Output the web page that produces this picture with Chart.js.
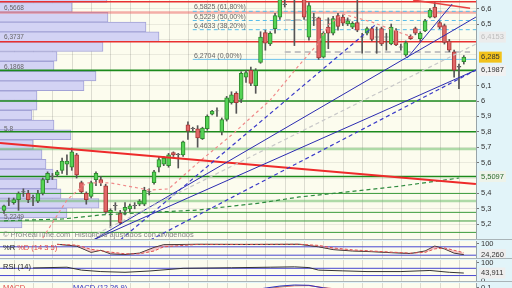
<!DOCTYPE html>
<html>
<head>
<meta charset="utf-8">
<script src="https://cdn.jsdelivr.net/npm/chart.js@4.4.1/dist/chart.umd.min.js"></script>
<style>
  body { margin:0; width:512px; height:288px; overflow:hidden; position:relative; background:#e2f4f9; font-family:"Liberation Sans", Arial, sans-serif; }
  .pane { position:absolute; left:0; width:476px; background:#fcfcee; }
  .sep { position:absolute; left:0; width:512px; height:1px; background:#a9b4b8; }
  canvas { position:absolute; left:0; }
  .t { position:absolute; white-space:nowrap; line-height:1; }
</style>
</head>
<body>
<div class="pane" style="top:0;height:239px"></div>
<div class="sep" style="top:239px"></div>
<div class="pane" style="top:241px;height:17px"></div>
<div class="sep" style="top:258px"></div>
<div class="pane" style="top:260px;height:21px"></div>
<div class="sep" style="top:281px"></div>
<div class="pane" style="top:283px;height:5px"></div>

<canvas id="profile" width="512" height="239" style="top:0"></canvas>
<canvas id="price" width="512" height="239" style="top:0"></canvas>
<canvas id="wr" width="512" height="17" style="top:241px"></canvas>
<canvas id="rsi" width="512" height="21" style="top:260px"></canvas>
<canvas id="macd" width="512" height="8" style="top:283px"></canvas>

<div class="t" style="left:4px;top:5px;font-size:6.5px;color:#666">6,5668</div>
<div class="t" style="left:4px;top:34px;font-size:6.5px;color:#666">6,3737</div>
<div class="t" style="left:4px;top:64px;font-size:6.5px;color:#666">6,1868</div>
<div class="t" style="left:4px;top:126px;font-size:6.5px;color:#666">5,8</div>
<div class="t" style="left:4px;top:214px;font-size:6.5px;color:#666">5,2249</div>

<div class="t" style="left:194px;top:2.5px;font-size:7px;color:#666">6,5825 (61,80%)</div>
<div class="t" style="left:194px;top:12.5px;font-size:7px;color:#666">6,5229 (50,00%)</div>
<div class="t" style="left:194px;top:21.5px;font-size:7px;color:#666">6,4633 (38,20%)</div>
<div class="t" style="left:194px;top:51.5px;font-size:7px;color:#666">6,2704 (0,00%)</div>

<div class="t" style="left:3px;top:231px;font-size:7.5px;color:#8a8a8a">© ProRealTime.com&nbsp; Históricos ajustados con dividendos</div>

<div class="t" style="left:3px;top:244px;font-size:7.5px;color:#222">%R <span style="color:#e04848">%D (14 3 5)</span></div>
<div class="t" style="left:3px;top:263px;font-size:7.5px;color:#222">RSI (14)</div>
<div class="t" style="left:3px;top:283.5px;font-size:7.5px;color:#e04848">MACD</div>
<div class="t" style="left:73px;top:283.5px;font-size:7.5px;color:#3030c0">MACD (12 26 9)</div>

<script>
// daily candles
const open = [5.29,5.35,5.34,5.36,5.41,5.40,5.37,5.35,5.40,5.49,
  5.51,5.52,5.55,5.59,5.57,5.65,5.47,5.40,5.38,5.49,
  5.49,5.45,5.275,5.32,5.27,5.29,5.30,5.32,5.33,5.33,
  5.41,5.47,5.57,5.59,5.58,5.665,5.655,5.65,5.845,5.82,
  5.82,5.755,5.82,5.915,5.935,5.80,5.88,5.99,6.05,6.01,
  6.155,6.20,6.10,6.25,6.445,6.37,6.47,6.545,6.63,6.68,
  6.72,6.70,6.70,6.415,6.54,6.54,6.285,6.48,6.44,6.555,
  6.545,6.50,6.48,6.51,6.415,6.44,6.47,6.415,6.47,6.415,
  6.37,6.455,6.35,6.30,6.42,6.47,6.405,6.455,6.545,6.61,
  6.51,6.49,6.39,6.32,6.22,6.255];
const high = [5.325,5.37,5.37,5.41,5.43,5.42,5.39,5.42,5.50,5.54,
  5.53,5.55,5.63,5.65,5.695,5.66,5.48,5.41,5.48,5.54,
  5.51,5.46,5.30,5.34,5.29,5.34,5.33,5.34,5.36,5.44,
  5.43,5.55,5.64,5.64,5.66,5.67,5.66,5.74,5.865,5.83,
  5.84,5.83,5.91,5.94,5.955,5.89,6.03,6.06,6.06,6.19,
  6.20,6.22,6.21,6.45,6.46,6.45,6.57,6.72,6.68,6.75,
  6.78,6.76,6.74,6.64,6.57,6.545,6.45,6.54,6.55,6.57,
  6.56,6.54,6.515,6.66,6.44,6.48,6.48,6.48,6.48,6.44,
  6.50,6.47,6.37,6.39,6.43,6.48,6.45,6.53,6.60,6.64,
  6.52,6.50,6.40,6.33,6.24,6.295];
const low = [5.27,5.32,5.33,5.29,5.38,5.34,5.32,5.34,5.39,5.47,
  5.49,5.51,5.53,5.52,5.55,5.50,5.40,5.33,5.37,5.45,
  5.45,5.27,5.18,5.29,5.20,5.26,5.28,5.30,5.32,5.32,
  5.39,5.46,5.54,5.58,5.57,5.64,5.565,5.64,5.75,5.80,
  5.70,5.75,5.81,5.91,5.90,5.78,5.87,5.98,5.92,5.99,
  6.12,6.10,6.05,6.245,6.33,6.36,6.44,6.53,6.61,6.66,
  6.36,6.67,6.53,6.395,6.49,6.27,6.28,6.34,6.43,6.46,
  6.49,6.49,6.47,6.45,6.31,6.43,6.39,6.31,6.36,6.33,
  6.365,6.36,6.33,6.29,6.40,6.43,6.39,6.45,6.54,6.54,
  6.47,6.37,6.32,6.155,6.08,6.24];
const close = [5.32,5.352,5.36,5.40,5.412,5.36,5.375,5.40,5.49,5.53,
  5.512,5.54,5.61,5.61,5.67,5.52,5.41,5.36,5.47,5.53,
  5.47,5.28,5.29,5.322,5.21,5.31,5.32,5.322,5.35,5.42,
  5.412,5.54,5.62,5.63,5.65,5.65,5.652,5.735,5.805,5.822,
  5.76,5.825,5.90,5.935,5.937,5.88,6.02,6.04,5.99,6.18,
  6.185,6.115,6.20,6.415,6.375,6.44,6.555,6.70,6.625,6.72,
  6.70,6.73,6.545,6.62,6.542,6.28,6.44,6.44,6.535,6.485,
  6.505,6.52,6.505,6.46,6.417,6.47,6.40,6.417,6.37,6.417,
  6.48,6.365,6.352,6.38,6.405,6.44,6.44,6.52,6.59,6.545,
  6.48,6.38,6.33,6.20,6.225,6.285];

// volume by price (left histogram)
const profilePrice = [6.671,6.608,6.544,6.481,6.417,6.353,6.290,6.226,6.162,6.099,6.035,5.972,
  5.908,5.844,5.781,5.717,5.653,5.590,5.526,5.462,5.399,5.335,5.272,5.208];
const profileVolume = [107,72,108,146,159,103,57,54,96,84,37,37,32,54,71,33,42,46,53,57,61,99,67,22];

// levels
const redLevels = [6.645, 6.385];
const pinkLevels = [6.575];
const greenStrong = [6.1987, 6.0, 5.8, 5.5097];
const greenPale = [5.688, 5.351];
const greenThin = [5.40, 5.277, 5.221, 5.147];
const fibLevels = [6.5825, 6.5229, 6.4633];
const fibBase = 6.2704;
const fibFrom = 39;
const greyZones = [[6.318, 58, 96.3], [6.526, 58, 72]];

// trend lines: [session index, price]
const redTrend = [[-0.83, 5.727], [97.5, 5.461]];
const redTop = [[84.5, 6.656], [96.3, 6.602]];
const blueA = [[18.4, 5.097], [97.5, 6.545]];
const blueB = [[18.4, 5.097], [97.5, 6.201]];
const blueC = [[83.3, 6.279], [92.6, 6.630]];
const blueDashA = [[24, 5.097], [76.7, 6.494]];
const blueDashB = [[30.2, 5.097], [97.5, 6.201]];
const greyDash = [[17.8, 5.117], [97.5, 6.370]];

// moving averages
const maPinkIdx = [8, 13, 17, 22, 30, 34, 40, 47, 55, 61, 65, 67, 70, 76, 82, 85];
const maPink = [5.110, 5.357, 5.468, 5.468, 5.422, 5.429, 5.597, 5.779, 6.006, 6.234, 6.377, 6.494, 6.565, 6.513, 6.442, 6.409];
const maGreenIdx = [0, 12, 20, 28, 40, 53, 61, 69, 82, 94];
const maGreen = [5.222, 5.234, 5.260, 5.273, 5.292, 5.338, 5.377, 5.403, 5.448, 5.500];

// indicators
const wrIdx = [11, 15, 18, 20, 22, 25, 28, 31, 33, 40, 50, 61, 65, 68, 72, 76, 80, 84, 87, 89, 91, 93, 95];
const wrK = [98, 85, 40, 55, 30, 25, 35, 75, 95, 98, 97, 98, 80, 60, 50, 45, 38, 32, 50, 85, 65, 35, 24.26];
const wrD = [97, 92, 62, 52, 42, 30, 30, 50, 80, 97, 97, 98, 90, 72, 58, 50, 42, 35, 40, 65, 72, 55, 38];
const rsiIdx = [6, 13, 16, 20, 25, 30, 37, 47, 55, 60, 63, 65, 70, 75, 82, 88, 92, 95];
const rsiVal = [72, 76, 60, 52, 48, 55, 70, 73, 76, 78, 74, 60, 56, 52, 52, 58, 48, 43.911];
const macdIdx = [44, 52, 57, 60, 63, 66, 72];
const macdLine = [0.07, 0.088, 0.11, 0.117, 0.115, 0.098, 0.075];
const macdSignal = [0.068, 0.085, 0.104, 0.112, 0.113, 0.1, 0.08];

// price axis
const priceTicks = [6.6, 6.5, 6.4, 6.3, 6.2, 6.1, 6.0, 5.9, 5.8, 5.7, 5.6, 5.5, 5.4, 5.3, 5.2, 6.4153, 6.1987, 5.5097, 6.285];
const hiddenTicks = [6.4, 6.3, 6.2, 5.5];
const boxes = {
  6.4153: { text: '6,4153', bg: '#ececec', fg: '#bdbdbd' },
  6.285: { text: '6,285', bg: '#f2c21c', fg: '#333' },
  6.1987: { text: '6,1987', bg: '#f1f1f1', fg: '#333' },
  5.5097: { text: '5,5097', bg: '#eef3ea', fg: '#2a6a2a' }
};

const X_MIN = -0.83, X_MAX = 97.52;
const Y_MIN = 5.104, Y_MAX = 6.656;
const weekLines = [];
for (let k = 0; k < 24; k++) weekLines.push(2.1 + 4 * k);

Chart.defaults.font.family = '"Liberation Sans", Arial, sans-serif';
Chart.defaults.font.size = 7.5;
Chart.defaults.animation = false;
Chart.defaults.events = [];
Chart.defaults.plugins.legend.display = false;
Chart.defaults.plugins.tooltip.enabled = false;

function comma(v) { return String(v).replace('.', ','); }

function rightAxis(min, max, list, labelOf, boxOf, gridOf, tickOf) {
  return {
    type: 'linear', position: 'right', min: min, max: max, offset: false, beginAtZero: false,
    afterBuildTicks: s => { s.ticks = list.map(v => ({ value: v })); },
    afterFit: s => { s.width = 36; s.paddingTop = 0; s.paddingBottom = 0; },
    ticks: {
      autoSkip: false, padding: 2,
      callback: v => labelOf(v),
      color: c => (c.tick && boxOf(c.tick.value)) ? boxOf(c.tick.value).fg : '#333',
      showLabelBackdrop: true,
      backdropColor: c => (c.tick && boxOf(c.tick.value)) ? boxOf(c.tick.value).bg : 'rgba(0,0,0,0)',
      backdropPadding: { x: 2, y: 1 }
    },
    grid: {
      offset: false, tickLength: 3,
      color: c => c.tick ? gridOf(c.tick.value) : 'rgba(0,0,0,0)',
      tickColor: c => c.tick ? tickOf(c.tick.value) : 'rgba(0,0,0,0)'
    },
    border: { color: '#98a4a8' }
  };
}

function weekAxis() {
  return {
    type: 'linear', position: 'bottom', min: X_MIN, max: X_MAX, offset: false,
    afterBuildTicks: s => { s.ticks = weekLines.map(v => ({ value: v })); },
    afterFit: s => { s.height = 0; },
    ticks: { display: false },
    grid: { color: '#dcdcd0', drawTicks: false, offset: false },
    border: { display: false }
  };
}

function seg(points, color, width, dash, order) {
  return { type: 'line', data: points.map(p => ({ x: p[0], y: p[1] })), borderColor: color, borderWidth: width,
    borderDash: dash || [], pointRadius: 0, fill: false, tension: 0, order: order };
}
function hline(v, color, width, dash, order, from, to) {
  return seg([[from === undefined ? X_MIN : from, v], [to === undefined ? X_MAX : to, v]], color, width, dash, order);
}
function series(idx, vals, color, width, dash, order) {
  return seg(idx.map((i, k) => [i, vals[k]]), color, width, dash, order);
}

// volume profile + price grid + price axis
const isBox = v => boxes[v];
new Chart(document.getElementById('profile'), {
  type: 'bar',
  data: { datasets: [{
    data: profilePrice.map((p, k) => ({ x: profileVolume[k], y: p })),
    backgroundColor: '#d3d3f4', borderColor: '#a2a2d6', borderWidth: 1,
    barPercentage: 1, categoryPercentage: 1, xAxisID: 'x', yAxisID: 'y'
  }] },
  options: {
    indexAxis: 'y', responsive: false,
    scales: {
      x: { type: 'linear', min: 0, max: 476, display: false, offset: false },
      weeks: weekAxis(),
      y: rightAxis(Y_MIN, Y_MAX, priceTicks,
        v => boxes[v] ? boxes[v].text : (hiddenTicks.includes(v) ? '' : comma(v)),
        isBox,
        v => boxes[v] ? 'rgba(0,0,0,0)' : 'rgba(0,0,0,0.07)',
        v => (boxes[v] || hiddenTicks.includes(v)) ? 'rgba(0,0,0,0)' : '#777')
    }
  }
});

// candles and drawings
const idx = close.map((_, i) => i);
const flat = i => Math.abs(close[i] - open[i]) < 0.005;
const bodyFill = idx.map(i => flat(i) ? '#777' : (close[i] > open[i] ? '#55d455' : '#e26868'));
const bodyEdge = idx.map(i => flat(i) ? '#555' : (close[i] > open[i] ? '#2f8a2f' : '#a83838'));

const ds = [];
redLevels.forEach(v => ds.push(hline(v, '#e83030', 1.6, [], 10)));
pinkLevels.forEach(v => ds.push(hline(v, 'rgba(236,110,110,0.55)', 2.5, [], 10)));
greenStrong.forEach(v => ds.push(hline(v, '#1c8a1c', 1.6, [], 10)));
greenPale.forEach(v => ds.push(hline(v, 'rgba(110,190,110,0.55)', 2.5, [], 10)));
greenThin.forEach(v => ds.push(hline(v, '#3a9a3a', 1, [], 10)));
fibLevels.forEach(v => ds.push(hline(v, '#58bdea', 1, [4, 3], 9, fibFrom)));
ds.push(hline(fibBase, '#6cc2ec', 1, [], 9, fibFrom));
greyZones.forEach(z => ds.push(hline(z[0], '#c4c4c4', 2, [6, 4], 8, z[1], z[2])));
ds.push({ type: 'bar', data: idx.map(i => ({ x: i, y: [low[i], high[i]] })), backgroundColor: '#555',
  barThickness: 1, grouped: false, clip: 0, order: 5 });
ds.push({ type: 'bar', data: idx.map(i => ({ x: i, y: [open[i], close[i]] })), backgroundColor: bodyFill,
  borderColor: bodyEdge, borderWidth: 1, borderSkipped: false, barThickness: 4, grouped: false, clip: 0, order: 4 });
ds.push(series(maPinkIdx, maPink, '#f08a8a', 1.2, [3, 3], 3));
ds.push(series(maGreenIdx, maGreen, '#2e8b3e', 1.2, [4, 3], 3));
ds.push(seg(greyDash, '#c8c8c8', 1.2, [4, 3], 2));
ds.push(seg(blueDashA, '#3a3ac8', 1.2, [4, 3], 2));
ds.push(seg(blueDashB, '#3a3ac8', 1.2, [4, 3], 2));
ds.push(seg(blueA, '#2b2bb0', 1, [], 2));
ds.push(seg(blueB, '#2b2bb0', 1, [], 2));
ds.push(seg(blueC, '#2b2bb0', 1, [], 2));
ds.push(seg(redTrend, '#ee2a2a', 2, [], 2));
ds.push(seg(redTop, '#e84040', 1.5, [], 2));

new Chart(document.getElementById('price'), {
  type: 'line',
  data: { datasets: ds },
  options: {
    responsive: false,
    layout: { padding: { right: 36 } },
    scales: {
      x: { type: 'linear', min: X_MIN, max: X_MAX, display: false, offset: false },
      y: { type: 'linear', min: Y_MIN, max: Y_MAX, display: false, beginAtZero: false }
    }
  }
});

// indicator panes
function pane(id, min, max, list, labels, boxVal, datasets) {
  new Chart(document.getElementById(id), {
    type: 'line',
    data: { datasets: datasets },
    options: {
      responsive: false,
      scales: {
        x: weekAxis(),
        y: rightAxis(min, max, list, v => labels[list.indexOf(v)],
          v => v === boxVal ? { bg: '#eeeeee', fg: '#333' } : null,
          () => 'rgba(0,0,0,0)', v => v === boxVal ? 'rgba(0,0,0,0)' : '#777')
      }
    }
  });
}

const wrD_ds = series(wrIdx, wrD, '#e05050', 1, [3, 2], 1);
wrD_ds.fill = '-1';
wrD_ds.backgroundColor = 'rgba(240,140,150,0.45)';
pane('wr', 0, 121.4, [0, 100, 24.26], ['0', '100', '24,260'], 24.26, [
  hline(80, '#4848d0', 1, [], 3),
  hline(20, '#4848d0', 1, [], 3),
  series(wrIdx, wrK, '#222', 1, [], 2),
  wrD_ds
]);

pane('rsi', 0, 115.8, [0, 100, 43.911], ['0', '100', '43,911'], 43.911, [
  hline(70, '#4848d0', 1, [], 3),
  hline(30, '#4848d0', 1, [], 3),
  series(rsiIdx, rsiVal, '#333', 1, [], 1)
]);

const macd_ds = series(macdIdx, macdLine, '#3030c0', 1, [], 1);
macd_ds.fill = '-1';
macd_ds.backgroundColor = 'rgba(150,215,150,0.7)';
pane('macd', 0.078, 0.13, [0.1], ['0,1'], null, [
  series(macdIdx, macdSignal, '#e05050', 1, [], 2),
  macd_ds
]);
</script>
</body>
</html>
